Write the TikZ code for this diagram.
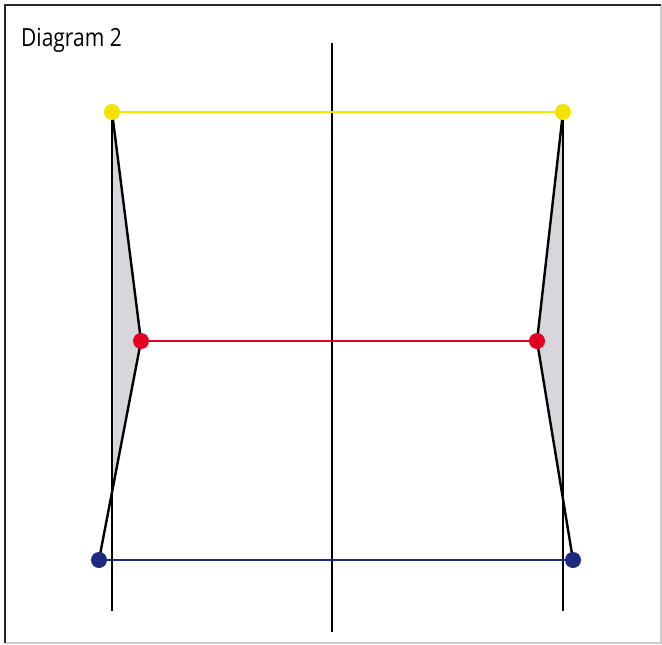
\documentclass[tikz,border=0pt]{standalone}
\usepackage{fontspec}
\setmainfont{Open Sans}
\definecolor{dyellow}{RGB}{245,226,0}
\definecolor{dred}{RGB}{228,0,35}
\definecolor{dblue}{RGB}{28,42,128}
\definecolor{dfill}{RGB}{214,214,220}
\definecolor{frameg}{RGB}{205,205,205}
\begin{document}
\begin{tikzpicture}[x=1pt,y=-1pt,
  axis/.style={line width=2.7pt,black},
  side/.style={line width=2.4pt,black,line join=miter},
  link/.style={line width=2.2pt},
  dot/.style={circle,fill=#1,inner sep=0pt,minimum size=16pt},
  label/.style={anchor=base west,font=\fontsize{25}{30}\selectfont,inner sep=0pt,xscale=0.84}]
\useasboundingbox (0,0) rectangle (662,645);
\fill[white] (0,0) rectangle (662,645);
% frame
\draw[frameg,line width=1.5pt] (5,643) -- (661,643) -- (661,5);
\draw[black!85,line width=2.8pt] (5,643) -- (5,5) -- (661,5);
% coordinates
\coordinate (yl) at (112,112);
\coordinate (yr) at (563,112);
\coordinate (rl) at (141,341);
\coordinate (rr) at (537,341);
\coordinate (bl) at (99,560);
\coordinate (br) at (573,560);
\coordinate (cl) at (112,492);
\coordinate (cr) at (563,499);
\coordinate (lt) at (112,112);
\coordinate (lb) at (112,611);
\coordinate (rt) at (563,112);
\coordinate (rb) at (563,611);
\coordinate (ct) at (332,43);
\coordinate (cb) at (332,632);
% gray fills
\fill[dfill] (yl) -- (rl) -- (cl) -- cycle;
\fill[dfill] (yr) -- (rr) -- (cr) -- cycle;
% verticals
\draw[axis] (ct) -- (cb);
\draw[axis] (lt) -- (lb);
\draw[axis] (rt) -- (rb);
% slanted sides
\draw[side] (yl) -- (rl) -- (bl);
\draw[side] (yr) -- (rr) -- (br);
% horizontal links
\draw[link,dyellow] (yl) -- (yr);
\draw[link,dred] (rl) -- (rr);
\draw[link,dblue] (bl) -- (br);
% dots
\node[dot=dyellow] (nyl) at (yl) {};
\node[dot=dyellow] (nyr) at (yr) {};
\node[dot=dred] (nrl) at (rl) {};
\node[dot=dred] (nrr) at (rr) {};
\node[dot=dblue] (nbl) at (bl) {};
\node[dot=dblue] (nbr) at (br) {};
\node[label] (title) at (21,46) {Diagram 2};
\end{tikzpicture}
\end{document}
